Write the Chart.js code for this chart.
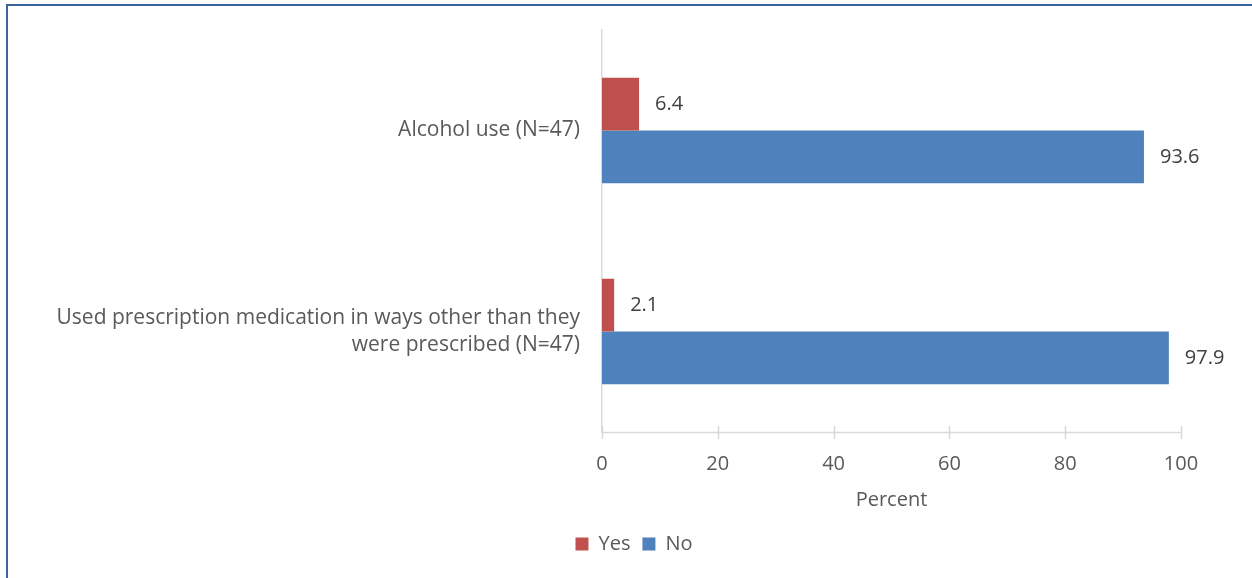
<!DOCTYPE html>
<html><head><meta charset="utf-8">
<script src="https://cdn.jsdelivr.net/npm/chart.js@4.4.0/dist/chart.umd.min.js"></script>
<style>
html,body{margin:0;padding:0;background:#fff;overflow:hidden}
#frame{position:absolute;left:6px;top:4px;width:1260px;height:600px;border-top:2px solid #3c6699;border-left:2px solid #3c6699;box-sizing:border-box}
#wrap{position:absolute;left:0;top:0;width:1252px;height:578px}
</style></head><body>
<div id="frame"></div>
<div id="wrap"><canvas id="c"></canvas></div>
<script>
const categories = [["Alcohol use (N=47)"], ["Used prescription medication in ways other than they", "were prescribed (N=47)"]];
const yesValues = [6.4, 2.1];
const noValues = [93.6, 97.9];
const xTicks = [0, 20, 40, 60, 80, 100];
const FONT = "'Open Sans', sans-serif";

const valueLabels = {
  id: 'valueLabels',
  afterDatasetsDraw(chart) {
    const ctx = chart.ctx;
    ctx.save();
    ctx.font = "20px " + FONT;
    ctx.fillStyle = '#404040';
    ctx.textAlign = 'left';
    ctx.textBaseline = 'middle';
    chart.data.datasets.forEach((ds, i) => {
      chart.getDatasetMeta(i).data.forEach((bar, j) => {
        ctx.fillText(ds.data[j].toFixed(1), bar.x + 16, bar.y);
      });
    });
    ctx.restore();
  }
};
const crossTicks = {
  id: 'crossTicks',
  afterDraw(chart) {
    const xs = chart.scales.x, ctx = chart.ctx;
    const y = chart.chartArea.bottom;
    ctx.save();
    ctx.strokeStyle = '#d9d9d9';
    ctx.lineWidth = 1.5;
    ctx.beginPath();
    ctx.moveTo(xs.getPixelForValue(0), y + 0.5);
    ctx.lineTo(xs.getPixelForValue(100), y + 0.5);
    xTicks.forEach(v => {
      const px = Math.round(xs.getPixelForValue(v)) + 0.5;
      ctx.moveTo(px, y - 6);
      ctx.lineTo(px, y + 7);
    });
    ctx.stroke();
    ctx.restore();
  }
};

new Chart(document.getElementById('c'), {
  type: 'bar',
  data: {
    labels: categories,
    datasets: [
      {label: 'Yes', data: yesValues, backgroundColor: '#C0504D', categoryPercentage: 0.525, barPercentage: 1.0},
      {label: 'No', data: noValues, backgroundColor: '#4F81BD', categoryPercentage: 0.525, barPercentage: 1.0}
    ]
  },
  options: {
    indexAxis: 'y',
    responsive: true,
    maintainAspectRatio: false,
    animation: false,
    layout: {padding: {top: 30, right: 0, left: 16, bottom: 14}},
    scales: {
      x: {
        min: 0, max: 100,
        afterBuildTicks(s) { s.ticks = xTicks.map(v => ({value: v})); },
        afterFit(s) { s.height = 90; },
        grid: {display: false, drawTicks: false},
        border: {display: false},
        ticks: {color: '#595959', font: {size: 20, family: FONT}, padding: 20},
        title: {display: true, text: 'Percent', color: '#595959', font: {size: 20, family: FONT}, padding: {top: 8, bottom: 10}}
      },
      y: {
        afterFit(s) { s.width = 586; s.paddingTop = 0; s.paddingBottom = 0; },
        grid: {display: false, drawTicks: false},
        border: {display: true, color: '#d9d9d9', width: 1.5},
        ticks: {color: '#595959', font: {size: 21, family: FONT, lineHeight: 1.33}, padding: 22}
      },
      yRight: {
        axis: 'y',
        type: 'category',
        position: 'right',
        afterFit(s) { s.width = 71; s.paddingTop = 0; s.paddingBottom = 0; },
        grid: {display: false, drawTicks: false},
        border: {display: false},
        ticks: {display: false}
      }
    },
    plugins: {
      legend: {
        position: 'bottom',
        labels: {color: '#595959', font: {size: 20, family: FONT}, boxWidth: 13, boxHeight: 13, padding: 12}
      },
      tooltip: {enabled: false}
    }
  },
  plugins: [valueLabels, crossTicks]
});
</script>
</body></html>
